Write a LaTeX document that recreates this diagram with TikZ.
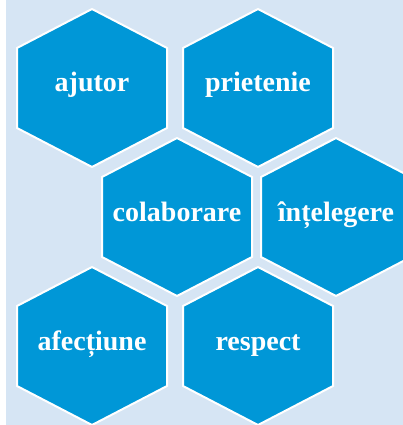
\documentclass[tikz,border=0pt]{standalone}
\usepackage{fontspec}
\setmainfont{Liberation Serif}
\definecolor{paper}{RGB}{214,229,244}
\definecolor{cell}{RGB}{0,151,215}

\begin{document}
\begin{tikzpicture}[x=1pt,y=-1pt,
  cellhex/.style={fill=cell,draw=white,line width=2pt,line join=miter},
  word/.style={text=white,font=\fontsize{28}{30}\selectfont\bfseries,anchor=base,inner sep=0pt}
]
\useasboundingbox (0,0) rectangle (403,425);
\fill[paper] (6,0) rectangle (403,425);
\begin{scope}
\clip (6,0) rectangle (403,425);
\foreach \cx/\cy/\name/\txt in {92/88/ajutor/ajutor, 258/88/prietenie/prietenie,
  177/217/colaborare/colaborare, 336/217/intelegere/înțelegere,
  92/346/afectiune/afecțiune, 258/346/respect/respect}{
  \draw[cellhex] (\cx,\cy) ++(0,-79) -- ++(75,39) -- ++(0,80) -- ++(-75,39)
    -- ++(-75,-39) -- ++(0,-80) -- cycle;
  \node[word] (\name) at (\cx,\cy+4) {\txt};
}
\end{scope}
\end{tikzpicture}
\end{document}
